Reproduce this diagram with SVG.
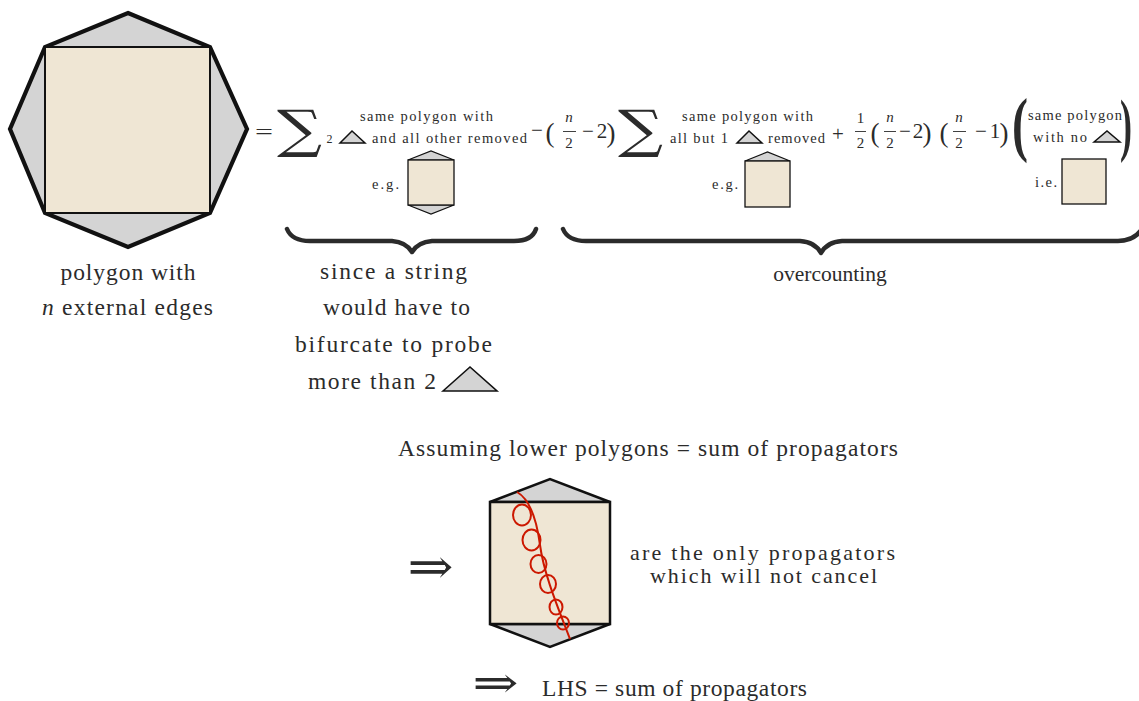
<svg xmlns="http://www.w3.org/2000/svg" width="1139" height="701" viewBox="0 0 1139 701">
<style>
.t{font-family:"Liberation Serif","Times New Roman",serif;fill:#2b2b2b}
.L{font-size:23.5px}
.S{font-size:14.5px}
.M{font-size:21px}
.F{font-size:15px}
.i{font-style:italic}
.sym{font-family:"DejaVu Serif","Liberation Serif",serif;fill:#2b2b2b}
.bei{fill:#efe6d4;stroke:#111}
.gry{fill:#d4d4d4;stroke:#111;stroke-linejoin:miter}
.fl{stroke:#2b2b2b;stroke-width:0.9}
.brace{fill:none;stroke:#2b2b2b;stroke-width:4.5;stroke-linecap:round;stroke-linejoin:round}
</style>
<rect width="1139" height="701" fill="#ffffff"/>

<g id="octagon">
<polygon class="gry" points="128,13 210,47 247,129 210,213 128,247 45,213 10,129 45,47" stroke-width="4.2"/>
<rect class="bei" x="45" y="47" width="165" height="166" stroke-width="2"/>
<text class="t L" x="128" y="280" text-anchor="middle" textLength="135" lengthAdjust="spacing">polygon with</text>
<text class="t L" x="127.5" y="315" text-anchor="middle" textLength="171" lengthAdjust="spacing"><tspan class="i">n</tspan> external edges</text>
</g>

<g id="equals-sum1">
<text class="t M" x="264" y="139" text-anchor="middle" textLength="18" lengthAdjust="spacingAndGlyphs">=</text>
<text class="sym" x="299.5" y="147" font-size="52" text-anchor="middle" textLength="45" lengthAdjust="spacingAndGlyphs">∑</text>
<text class="t" x="329.5" y="143" font-size="12" text-anchor="middle">2</text>
<polygon class="gry" points="340,143 352,131 365,143" stroke-width="1.5"/>
<text class="t S" x="426.5" y="121" text-anchor="middle" textLength="133" lengthAdjust="spacing">same polygon with</text>
<text class="t S" x="449.5" y="143" text-anchor="middle" textLength="155" lengthAdjust="spacing">and all other removed</text>
<text class="t S" x="372" y="189" textLength="27" lengthAdjust="spacing">e.g.</text>
<polygon class="gry" points="408,160 431,151 454,160" stroke-width="1.2"/>
<polygon class="gry" points="408,205 431,214 454,205" stroke-width="1.2"/>
<rect class="bei" x="408" y="160" width="46" height="45" stroke-width="1.3"/>
</g>

<g id="term2">
<text class="t M" x="537" y="137" text-anchor="middle">−</text>
<text class="t" x="550" y="142" font-size="27" text-anchor="middle">(</text>
<text class="t F i" x="569" y="122" text-anchor="middle">n</text>
<line class="fl" x1="563" y1="131.5" x2="576" y2="131.5"/>
<text class="t F" x="569" y="148" text-anchor="middle">2</text>
<text class="t M" x="588" y="138" text-anchor="middle">−</text>
<text class="t M" x="602" y="138" text-anchor="middle">2</text>
<text class="t" x="611" y="142" font-size="27" text-anchor="middle">)</text>
<text class="sym" x="640.5" y="147" font-size="52" text-anchor="middle" textLength="45" lengthAdjust="spacingAndGlyphs">∑</text>
<text class="t S" x="747.5" y="121" text-anchor="middle" textLength="131" lengthAdjust="spacing">same polygon with</text>
<text class="t S" x="670" y="143" textLength="58" lengthAdjust="spacing">all but 1</text>
<polygon class="gry" points="737,143 749,131 762,143" stroke-width="1.5"/>
<text class="t S" x="768" y="143" textLength="57" lengthAdjust="spacing">removed</text>
<text class="t S" x="712" y="189" textLength="26" lengthAdjust="spacing">e.g.</text>
<polygon class="gry" points="745,161 767.5,152 790,161" stroke-width="1.2"/>
<rect class="bei" x="745" y="161" width="45" height="46" stroke-width="1.3"/>
</g>

<g id="term3">
<text class="t M" x="838" y="141" text-anchor="middle">+</text>
<text class="t F" x="860.5" y="123" text-anchor="middle">1</text>
<line class="fl" x1="855" y1="131.5" x2="866" y2="131.5"/>
<text class="t F" x="860.5" y="148" text-anchor="middle">2</text>
<text class="t" x="875" y="142" font-size="27" text-anchor="middle">(</text>
<text class="t F i" x="890" y="122" text-anchor="middle">n</text>
<line class="fl" x1="884" y1="131.5" x2="896" y2="131.5"/>
<text class="t F" x="890" y="148" text-anchor="middle">2</text>
<text class="t M" x="905" y="138" text-anchor="middle">−</text>
<text class="t M" x="918" y="138" text-anchor="middle">2</text>
<text class="t" x="927" y="142" font-size="27" text-anchor="middle">)</text>
<text class="t" x="944" y="142" font-size="27" text-anchor="middle">(</text>
<text class="t F i" x="959" y="122" text-anchor="middle">n</text>
<line class="fl" x1="953" y1="131.5" x2="966" y2="131.5"/>
<text class="t F" x="959" y="148" text-anchor="middle">2</text>
<text class="t M" x="981" y="138" text-anchor="middle">−</text>
<text class="t M" x="995" y="138" text-anchor="middle">1</text>
<text class="t" x="1004" y="142" font-size="27" text-anchor="middle">)</text>
<text class="t" x="1020" y="148" font-size="72" font-weight="bold" text-anchor="middle" textLength="16" lengthAdjust="spacingAndGlyphs">(</text>
<text class="t S" x="1075" y="120" text-anchor="middle" textLength="94" lengthAdjust="spacing">same polygon</text>
<text class="t S" x="1033" y="142" textLength="54" lengthAdjust="spacing">with no</text>
<polygon class="gry" points="1094,142 1107,131 1120,142" stroke-width="1.5"/>
<text class="t" x="1126" y="148" font-size="70" font-weight="bold" text-anchor="middle" textLength="12" lengthAdjust="spacingAndGlyphs">)</text>
<text class="t S" x="1035" y="187" textLength="22" lengthAdjust="spacing">i.e.</text>
<rect class="bei" x="1062" y="159" width="44" height="45" stroke-width="1.3"/>
</g>

<g id="connectors">
<path class="brace" d="M287,229 Q292,241 310,241 L392,241 Q406,242 412,252 Q418,242 432,241 L514,241 Q532,241 536,229"/>
<path class="brace" d="M563,229 Q568,241 586,241 L800,241 Q815,242 821,253 Q827,242 842,241 L1118,241 Q1134,241 1142,229"/>
</g>

<g id="brace-labels">
<text class="t L" x="393.5" y="279" text-anchor="middle" textLength="147" lengthAdjust="spacing">since a string</text>
<text class="t L" x="396.5" y="315" text-anchor="middle" textLength="147" lengthAdjust="spacing">would have to</text>
<text class="t L" x="393.5" y="352" text-anchor="middle" textLength="197" lengthAdjust="spacing">bifurcate to probe</text>
<text class="t L" x="308" y="389" textLength="128" lengthAdjust="spacing">more than 2</text>
<polygon class="gry" points="443,391 470,367 497,391" stroke-width="1.6"/>
<text class="t" x="830" y="281" font-size="21.5" text-anchor="middle">overcounting</text>
</g>

<g id="assumption">
<text class="t L" x="398" y="456" textLength="500" lengthAdjust="spacing">Assuming lower polygons = sum of propagators</text>
</g>

<g id="implication1">
<text class="sym" x="430.5" y="583" font-size="48" text-anchor="middle" textLength="46" lengthAdjust="spacingAndGlyphs">⇒</text>
</g>

<g id="propagator">
<polygon class="gry" points="490,502 550,479 610,502" stroke-width="2.5"/>
<polygon class="gry" points="490,624 550,647 610,624" stroke-width="2.5"/>
<rect class="bei" x="490" y="502" width="120" height="122" stroke-width="2.5"/>
<g fill="none" stroke="#cc1800" stroke-width="2">
<path d="M517,492 C531,500 537,522 540,545 C544,575 559,610 570,639"/>
<ellipse cx="522" cy="515" rx="9" ry="10.5"/>
<ellipse cx="531.5" cy="540" rx="9" ry="10.5"/>
<ellipse cx="538.5" cy="564" rx="8" ry="9"/>
<ellipse cx="548" cy="584" rx="8" ry="9"/>
<ellipse cx="556" cy="607" rx="6.5" ry="7.5"/>
<ellipse cx="563" cy="623" rx="6" ry="6.5"/>
</g>
</g>

<g id="propagator-label">
<text class="t" x="762.5" y="560" font-size="22" text-anchor="middle" textLength="265" lengthAdjust="spacing">are the only propagators</text>
<text class="t" x="763.5" y="583" font-size="22" text-anchor="middle" textLength="227" lengthAdjust="spacing">which will not cancel</text>
</g>

<g id="conclusion">
<text class="sym" x="495.5" y="697" font-size="42" text-anchor="middle" textLength="46" lengthAdjust="spacingAndGlyphs">⇒</text>
<text class="t L" x="542" y="696" textLength="265" lengthAdjust="spacing">LHS = sum of propagators</text>
</g>
</svg>
